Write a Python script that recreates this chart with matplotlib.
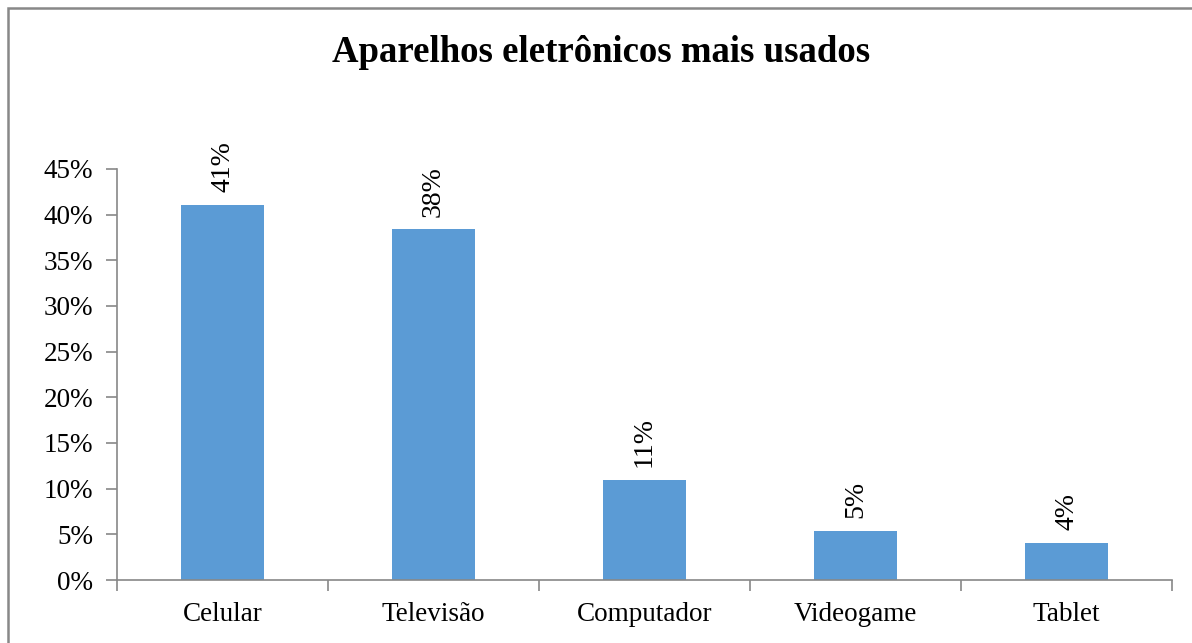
import matplotlib.pyplot as plt
from matplotlib.patches import Rectangle
from matplotlib.ticker import PercentFormatter, FixedLocator

# dados
categorias = ['Celular', 'Televisão', 'Computador', 'Videogame', 'Tablet']
valores = [0.411, 0.384, 0.110, 0.054, 0.041]

plt.rcParams['font.family'] = ['Liberation Serif', 'DejaVu Serif']

fig = plt.figure(figsize=(11.92, 6.43), dpi=100)
ax = fig.add_axes([117/1192, 1-580/643, (1172-117)/1192, (580-169)/643])

x = range(len(categorias))
bars = ax.bar(x, valores, width=0.39, color='#5B9BD5', zorder=2)

for b, v in zip(bars, valores):
    ax.annotate('{:.0%}'.format(v), (b.get_x() + b.get_width()/2, v),
                xytext=(0, 9), textcoords='offset points',
                rotation=90, ha='center', va='bottom', fontsize=20)

ax.set_xlim(-0.5, len(categorias) - 0.5)
ax.set_ylim(0, 0.45)
ax.set_yticks([i * 0.05 for i in range(10)])
ax.yaxis.set_major_formatter(PercentFormatter(1.0, decimals=0))

ax.set_xticks(list(x))
ax.set_xticklabels(categorias)
ax.xaxis.set_minor_locator(FixedLocator([i - 0.5 for i in range(len(categorias) + 1)]))
ax.tick_params(axis='x', which='major', length=0, pad=16, labelsize=19.5)
ax.tick_params(axis='x', which='minor', length=8, width=1.2, color='#888888')
ax.tick_params(axis='y', length=8, width=1.2, color='#888888', labelsize=19.5, pad=9)

for s in ['top', 'right']:
    ax.spines[s].set_visible(False)
for s in ['left', 'bottom']:
    ax.spines[s].set_color('#888888')
    ax.spines[s].set_linewidth(1.2)

fig.text(601/1192, 1-53/643, 'Aparelhos eletrônicos mais usados',
         ha='center', va='center', fontsize=26.5, fontweight='bold')

# moldura do gráfico
fig.patches.append(Rectangle((8/1192, -0.1), 1.1, 1 - 8/643 + 0.1,
                             transform=fig.transFigure, fill=False,
                             edgecolor='#888888', linewidth=1.8))

fig.savefig('out.png', dpi=100)
